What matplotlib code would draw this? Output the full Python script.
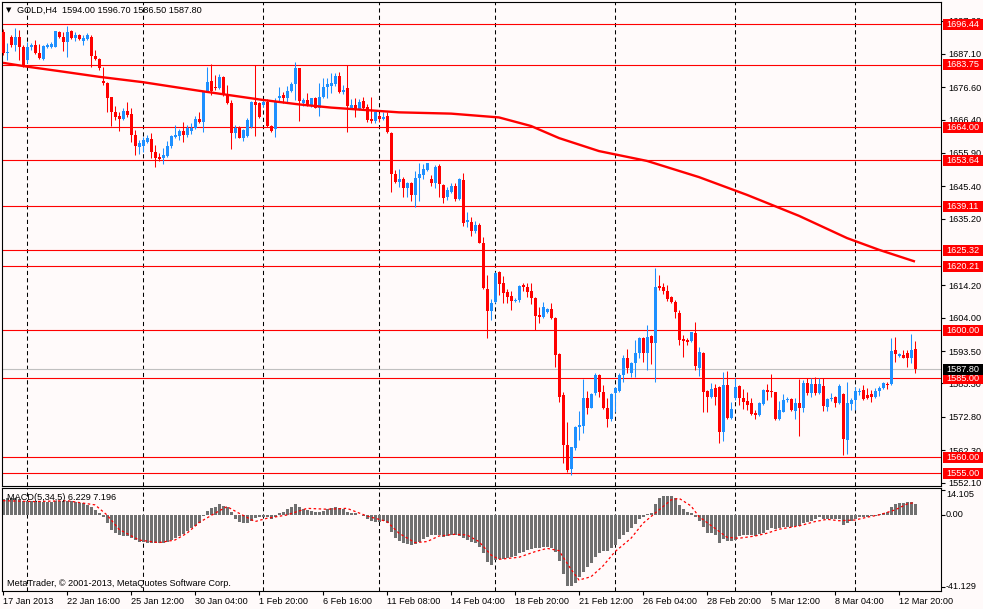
import matplotlib
matplotlib.use("Agg")
import matplotlib.pyplot as plt
import matplotlib.transforms as mtransforms
from matplotlib.patches import Rectangle

plt.rcParams['font.family'] = ['Liberation Sans', 'DejaVu Sans']

#------------------- data (GOLD, H4) -------------------
opens = [1694.1, 1687.4, 1692.5, 1689.9, 1692.5, 1689.4, 1685.2, 1689.4, 1689.9, 1687.5,
         1685.5, 1689.4, 1689.2, 1689.4, 1693.9, 1692.5, 1690.9, 1694.3, 1692.0, 1693.1,
         1691.3, 1691.8, 1692.5, 1686.5, 1685.4, 1678.7, 1678.0, 1673.4, 1668.9, 1667.6,
         1666.6, 1669.2, 1668.2, 1661.6, 1657.9, 1658.2, 1659.3, 1660.3, 1656.3, 1654.7,
         1654.4, 1655.1, 1658.2, 1660.8, 1661.3, 1662.8, 1661.6, 1662.8, 1663.7, 1666.6,
         1665.8, 1675.4, 1678.6, 1676.8, 1676.3, 1679.9, 1674.4, 1671.5, 1662.1, 1664.2,
         1660.7, 1661.3, 1664.2, 1672.0, 1671.5, 1671.0, 1672.0, 1664.5, 1663.5, 1673.3,
         1674.2, 1673.3, 1675.4, 1677.5, 1682.6, 1671.5, 1672.6, 1671.0, 1673.3, 1670.2,
         1673.6, 1676.8, 1677.1, 1677.5, 1680.2, 1675.0, 1676.3, 1670.2, 1671.0, 1669.8,
         1672.3, 1670.5, 1666.6, 1666.0, 1667.6, 1666.6, 1667.6, 1662.1, 1649.2, 1646.9,
         1647.6, 1644.8, 1646.3, 1642.7, 1647.9, 1649.0, 1650.5, 1647.7, 1646.5, 1651.8,
         1645.8, 1641.9, 1643.7, 1645.5, 1641.3, 1647.4, 1634.3, 1634.3, 1631.4, 1633.2,
         1627.6, 1612.9, 1606.2, 1609.1, 1618.5, 1615.0, 1612.2, 1611.0, 1609.3, 1609.6,
         1614.3, 1613.6, 1612.5, 1610.1, 1604.9, 1604.3, 1605.9, 1606.7, 1603.8, 1592.6,
         1579.7, 1563.9, 1556.2, 1562.9, 1569.5, 1570.0, 1578.6, 1575.7, 1580.2, 1586.0,
         1580.7, 1575.5, 1572.0, 1580.2, 1581.0, 1586.0, 1591.2, 1586.7, 1589.6, 1592.8,
         1597.5, 1592.8, 1598.3, 1596.1, 1614.0, 1613.6, 1612.5, 1610.4, 1609.1, 1605.5,
         1597.2, 1597.0, 1596.7, 1599.1, 1588.3, 1592.8, 1580.9, 1579.1, 1581.8, 1582.3,
         1567.9, 1582.8, 1572.3, 1578.6, 1582.6, 1578.6, 1577.8, 1577.0, 1573.9, 1573.4,
         1576.7, 1581.2, 1580.9, 1580.5, 1572.1, 1574.4, 1578.1, 1578.4, 1574.6, 1577.0,
         1575.5, 1583.4, 1580.2, 1583.0, 1580.2, 1582.5, 1576.0, 1578.4, 1579.1, 1577.0,
         1579.9, 1565.5, 1576.7, 1578.1, 1580.7, 1581.2, 1579.7, 1579.9, 1579.1, 1580.9,
         1582.0, 1583.0, 1583.0, 1593.8, 1592.0, 1592.3, 1592.8, 1591.4, 1594.0]
highs = [1694.9, 1690.5, 1693.1, 1695.2, 1694.6, 1689.9, 1690.9, 1690.6, 1691.5, 1690.2,
         1689.9, 1690.5, 1690.9, 1694.4, 1694.3, 1694.1, 1695.9, 1694.6, 1694.1, 1693.4,
         1693.1, 1693.8, 1693.1, 1688.3, 1685.7, 1683.1, 1678.4, 1673.6, 1670.7, 1668.9,
         1670.0, 1672.0, 1670.0, 1663.1, 1660.0, 1661.0, 1661.6, 1662.1, 1658.4, 1655.8,
         1657.4, 1659.7, 1661.6, 1664.7, 1663.5, 1665.8, 1664.7, 1665.3, 1667.6, 1668.9,
         1675.4, 1683.1, 1683.8, 1680.5, 1680.7, 1680.3, 1677.3, 1672.6, 1664.7, 1664.5,
         1663.5, 1666.8, 1672.3, 1683.6, 1672.0, 1672.9, 1672.9, 1664.7, 1673.3, 1676.8,
         1675.0, 1677.1, 1678.4, 1684.7, 1682.8, 1673.3, 1674.7, 1673.3, 1673.6, 1677.9,
         1679.4, 1679.4, 1681.0, 1681.0, 1681.3, 1677.3, 1683.6, 1672.9, 1673.1, 1672.9,
         1673.6, 1671.2, 1673.6, 1668.9, 1668.4, 1668.9, 1668.9, 1662.4, 1650.5, 1650.9,
         1648.4, 1646.9, 1646.7, 1650.2, 1652.9, 1652.4, 1652.9, 1649.0, 1652.1, 1652.4,
         1646.0, 1645.1, 1646.4, 1646.4, 1647.9, 1649.7, 1637.4, 1635.8, 1634.6, 1633.8,
         1629.3, 1617.5, 1609.8, 1618.5, 1618.8, 1617.2, 1613.0, 1612.5, 1610.1, 1614.3,
         1615.0, 1614.8, 1614.8, 1610.6, 1607.5, 1609.1, 1607.0, 1608.7, 1604.1, 1592.8,
         1580.7, 1571.3, 1563.4, 1569.9, 1574.7, 1584.6, 1581.0, 1580.4, 1586.7, 1586.3,
         1582.8, 1578.6, 1580.2, 1582.3, 1586.5, 1592.3, 1594.1, 1590.2, 1597.0, 1598.0,
         1597.8, 1601.7, 1598.6, 1619.6, 1617.5, 1614.8, 1614.3, 1610.8, 1609.6, 1606.4,
         1598.6, 1597.7, 1599.6, 1602.8, 1594.9, 1593.1, 1581.2, 1583.4, 1583.0, 1582.6,
         1587.0, 1587.2, 1577.4, 1585.1, 1582.8, 1581.6, 1580.5, 1578.8, 1574.9, 1577.4,
         1581.6, 1583.0, 1586.2, 1580.7, 1577.8, 1579.9, 1579.1, 1578.8, 1578.8, 1584.7,
         1584.4, 1584.9, 1585.1, 1585.4, 1584.9, 1584.9, 1578.8, 1580.2, 1579.4, 1583.0,
         1580.2, 1583.9, 1578.8, 1582.3, 1581.8, 1582.8, 1581.8, 1581.2, 1582.0, 1582.6,
         1583.7, 1583.7, 1597.7, 1598.0, 1592.8, 1593.8, 1593.8, 1598.8, 1596.7]
lows = [1686.8, 1685.2, 1689.4, 1688.1, 1685.2, 1683.1, 1684.2, 1688.3, 1687.1, 1685.5,
        1685.2, 1688.9, 1688.9, 1689.2, 1692.0, 1688.0, 1686.2, 1691.8, 1691.3, 1691.5,
        1689.9, 1691.5, 1683.1, 1685.2, 1682.0, 1677.3, 1668.9, 1664.4, 1666.3, 1662.9,
        1666.3, 1667.1, 1659.5, 1655.3, 1655.5, 1656.3, 1659.0, 1654.4, 1651.6, 1653.4,
        1652.3, 1654.7, 1657.6, 1660.5, 1660.0, 1659.3, 1661.0, 1662.0, 1663.5, 1665.3,
        1662.4, 1675.2, 1674.2, 1675.7, 1676.1, 1673.9, 1671.2, 1657.2, 1660.5, 1660.5,
        1659.7, 1661.0, 1663.9, 1661.3, 1666.8, 1670.5, 1664.2, 1662.6, 1661.0, 1672.0,
        1671.5, 1672.0, 1675.0, 1672.6, 1666.0, 1670.8, 1670.8, 1670.5, 1670.0, 1667.6,
        1673.1, 1673.3, 1674.7, 1677.1, 1674.7, 1674.4, 1662.6, 1669.8, 1667.3, 1669.4,
        1669.4, 1665.8, 1665.3, 1665.3, 1665.8, 1666.3, 1662.1, 1643.5, 1646.3, 1645.3,
        1642.1, 1642.1, 1640.9, 1638.8, 1640.9, 1647.6, 1650.3, 1645.5, 1644.8, 1641.9,
        1640.1, 1641.1, 1643.4, 1640.9, 1641.1, 1632.9, 1632.5, 1629.8, 1630.8, 1627.4,
        1612.9, 1597.5, 1603.3, 1608.7, 1611.2, 1608.7, 1608.6, 1606.4, 1609.1, 1609.1,
        1612.5, 1610.6, 1608.3, 1600.1, 1602.2, 1603.8, 1605.6, 1603.5, 1588.4, 1577.5,
        1558.2, 1555.5, 1554.5, 1562.3, 1565.5, 1567.6, 1573.7, 1575.5, 1579.7, 1579.1,
        1575.2, 1569.5, 1571.6, 1574.4, 1580.7, 1583.9, 1586.7, 1585.2, 1585.4, 1591.2,
        1590.2, 1587.5, 1589.4, 1583.9, 1612.7, 1611.5, 1609.4, 1608.6, 1603.9, 1595.4,
        1591.7, 1595.4, 1596.5, 1587.5, 1585.8, 1574.4, 1574.4, 1578.6, 1576.5, 1564.5,
        1565.2, 1572.1, 1572.1, 1578.1, 1576.5, 1575.3, 1574.9, 1573.4, 1572.1, 1573.2,
        1576.5, 1578.1, 1579.1, 1571.8, 1571.8, 1574.2, 1577.4, 1574.6, 1572.1, 1566.8,
        1574.4, 1579.7, 1579.1, 1579.7, 1579.9, 1574.6, 1574.6, 1577.8, 1576.0, 1576.8,
        1560.8, 1561.0, 1574.9, 1574.9, 1579.7, 1578.1, 1578.4, 1577.4, 1578.8, 1579.4,
        1581.6, 1581.6, 1582.8, 1590.2, 1591.7, 1591.2, 1588.6, 1589.7, 1586.5]
closes = [1687.3, 1687.7, 1689.9, 1692.5, 1689.2, 1683.6, 1689.4, 1689.8, 1687.3, 1685.7,
          1689.6, 1690.0, 1690.1, 1694.3, 1692.3, 1690.9, 1694.1, 1692.0, 1693.1, 1691.7,
          1692.0, 1693.1, 1686.5, 1685.5, 1682.6, 1677.9, 1673.1, 1668.9, 1667.1, 1666.6,
          1669.2, 1667.9, 1661.6, 1658.1, 1659.0, 1660.0, 1660.7, 1656.3, 1654.2, 1654.0,
          1655.3, 1658.2, 1661.2, 1661.6, 1662.8, 1661.6, 1663.9, 1663.7, 1666.6, 1665.8,
          1675.4, 1678.3, 1675.4, 1676.3, 1679.9, 1674.4, 1671.5, 1662.1, 1663.9, 1660.7,
          1663.1, 1666.3, 1672.0, 1671.0, 1667.3, 1672.0, 1664.5, 1662.8, 1672.0, 1673.9,
          1673.3, 1675.4, 1677.5, 1682.6, 1672.3, 1672.6, 1671.0, 1673.1, 1670.2, 1673.6,
          1676.8, 1677.5, 1677.9, 1680.2, 1675.0, 1675.7, 1670.8, 1671.0, 1669.8, 1672.0,
          1670.2, 1666.3, 1666.0, 1668.7, 1666.6, 1667.3, 1662.4, 1649.2, 1646.9, 1647.7,
          1644.8, 1646.5, 1642.7, 1647.9, 1649.3, 1650.9, 1652.7, 1646.4, 1651.4, 1646.0,
          1641.8, 1644.2, 1645.5, 1641.3, 1647.6, 1633.8, 1634.8, 1631.4, 1633.2, 1627.6,
          1613.3, 1606.2, 1608.5, 1618.2, 1614.6, 1611.9, 1610.6, 1609.4, 1609.6, 1614.0,
          1613.6, 1612.2, 1610.1, 1604.6, 1604.3, 1607.5, 1606.7, 1603.8, 1592.3, 1579.1,
          1563.9, 1556.0, 1563.2, 1569.5, 1570.2, 1578.6, 1575.5, 1580.0, 1586.0, 1580.7,
          1575.5, 1572.0, 1580.0, 1581.8, 1586.0, 1591.2, 1588.1, 1589.8, 1593.0, 1597.5,
          1592.8, 1597.8, 1596.1, 1613.8, 1613.3, 1612.5, 1609.8, 1609.1, 1605.8, 1597.0,
          1596.7, 1596.5, 1599.4, 1588.9, 1593.3, 1580.7, 1579.1, 1581.6, 1579.1, 1568.1,
          1582.8, 1572.3, 1575.3, 1582.3, 1578.8, 1577.5, 1576.5, 1573.6, 1573.4, 1577.0,
          1581.2, 1580.7, 1580.7, 1572.1, 1574.9, 1578.1, 1578.4, 1574.9, 1577.0, 1575.5,
          1583.4, 1580.2, 1583.0, 1580.2, 1583.0, 1576.3, 1578.4, 1578.8, 1577.0, 1582.6,
          1565.8, 1577.0, 1578.1, 1580.9, 1580.9, 1578.4, 1578.8, 1579.1, 1580.9, 1582.0,
          1583.4, 1582.8, 1593.5, 1592.5, 1592.5, 1591.4, 1591.4, 1593.8, 1587.8]

# moving average (red thick line), sampled at bar indices
ma_idx = [0, 6, 14, 24, 35, 49, 65, 74, 82, 91, 99, 112, 124, 132, 139, 149, 161, 174, 186, 199, 211, 219, 228]
ma_vals = [1684.3, 1683.1, 1681.7, 1679.9, 1678.2, 1675.5, 1672.6, 1671.2, 1670.2, 1669.4, 1668.7, 1668.3,
           1667.1, 1664.4, 1660.6, 1656.5, 1653.4, 1648.3, 1642.7, 1636.1, 1629.1, 1625.4, 1621.7]

# MACD(5,34,5) histogram, one value per bar
macd_hist = [9.2, 9.6, 9.6, 9.6, 9.0, 8.2, 8.2, 8.2, 8.2, 8.1,
             7.7, 7.7, 7.7, 8.2, 8.2, 8.2, 8.2, 8.2, 7.7, 7.1,
             6.7, 5.8, 4.4, 2.9, 1.0, -1.0, -4.8, -8.6, -10.5, -11.5,
             -12.1, -12.1, -13.4, -14.4, -15.3, -15.3, -15.9, -16.3, -16.3, -16.3,
             -16.3, -15.7, -14.4, -13.4, -12.1, -10.9, -9.0, -7.7, -6.3, -4.4,
             -0.6, 2.5, 3.8, 4.8, 6.3, 5.2, 4.4, 1.9, -2.5, -3.8,
             -4.8, -4.8, -3.3, -1.9, -1.3, -1.0, -1.3, -2.5, -1.3, 1.0,
             1.9, 3.3, 4.4, 6.3, 4.8, 3.3, 2.9, 2.5, 1.9, 1.9,
             2.5, 3.3, 3.8, 4.4, 3.8, 3.3, 1.9, 1.3, 1.0, 0.1,
             -0.6, -2.5, -3.3, -3.8, -3.8, -3.3, -4.8, -9.6, -13.4, -14.8,
             -16.3, -16.7, -17.3, -16.7, -15.3, -14.0, -12.5, -11.5, -11.5, -11.5,
             -12.5, -12.1, -11.5, -11.5, -12.1, -13.4, -14.4, -15.3, -16.3, -18.2,
             -22.0, -26.8, -28.8, -25.9, -25.5, -25.3, -24.9, -24.3, -23.6, -22.0,
             -21.1, -20.1, -19.7, -19.2, -18.8, -18.6, -18.6, -18.8, -21.1, -26.3,
             -33.9, -40.8, -41.1, -39.3, -35.5, -32.6, -30.1, -27.4, -24.3, -21.7,
             -20.5, -20.5, -19.2, -17.3, -14.0, -11.5, -9.6, -7.7, -5.2, -2.5,
             -1.3, 0.6, 1.3, 6.3, 9.6, 10.9, 10.9, 10.9, 9.6, 5.8,
             3.3, 1.9, 1.3, -1.0, -3.3, -7.1, -10.2, -10.5, -11.5, -15.9,
             -14.0, -14.8, -14.8, -14.4, -12.1, -11.5, -11.5, -11.5, -12.1, -10.9,
             -10.2, -8.6, -7.7, -8.2, -7.7, -7.1, -6.7, -6.7, -6.3, -6.3,
             -4.8, -3.8, -3.3, -2.5, -1.3, -2.5, -2.5, -2.5, -2.5, -2.5,
             -5.8, -4.4, -3.3, -2.5, -1.3, -1.3, -1.3, -0.6, -0.6, 0.6,
             1.3, 1.9, 4.8, 6.3, 7.1, 7.1, 7.5, 7.7, 6.229]

# MACD signal line, sampled at bar indices
sig_idx = [0, 8, 16, 23, 26, 29, 34, 39, 43, 46, 49, 53, 56, 59, 63, 66, 71, 76, 81, 86,
           91, 96, 99, 103, 106, 109, 113, 116, 119, 122, 124, 129, 133, 136, 139, 142, 144, 147,
           150, 153, 157, 160, 163, 167, 169, 172, 174, 178, 181, 184, 188, 191, 194, 199, 203,
           206, 209, 213, 216, 219, 223, 226, 228]
sig_vals = [8.2, 7.7, 8.2, 5.8, 0.0, -8.2, -14.4, -15.9, -14.4, -10.5, -4.4, 1.0, 4.8, 1.0, -3.8,
            -1.9, 0.0, 3.8, 3.3, 3.8, -0.6, -3.8, -10.5, -15.9, -15.3, -12.1, -11.1, -11.5, -15.3,
            -23.0, -25.5, -24.3, -21.1, -19.2, -20.5, -31.2, -37.4, -35.5, -29.3, -21.1, -13.4,
            -4.8, 1.0, 8.6, 9.6, 5.2, -1.0, -7.7, -12.8, -13.4, -12.1, -10.5, -8.2, -6.3, -3.8,
            -2.5, -3.3, -2.9, -1.3, 0.0, 2.9, 6.3, 7.196]

levels = [1696.44, 1683.75, 1664.00, 1653.64, 1639.11, 1625.32, 1620.21, 1600.00, 1585.00, 1560.00, 1555.00]
price_ticks = [1697.60, 1687.10, 1676.60, 1666.40, 1655.90, 1645.40, 1635.20,
               1614.20, 1604.00, 1593.50, 1583.30, 1572.80, 1562.30, 1552.10]
last_price = 1587.80
grid_bars = [6, 35, 65, 94, 123, 153, 183, 213]
date_bars = [0, 16, 32, 48, 64, 80, 96, 112, 128, 144, 160, 176, 192, 208, 224]
date_labels = ['17 Jan 2013', '22 Jan 16:00', '25 Jan 12:00', '30 Jan 04:00', '1 Feb 20:00',
               '6 Feb 16:00', '11 Feb 08:00', '14 Feb 04:00', '18 Feb 20:00', '21 Feb 12:00',
               '26 Feb 04:00', '28 Feb 20:00', '5 Mar 12:00', '8 Mar 04:00', '12 Mar 20:00']
macd_ticks = [14.105, 0.0, -41.129]
macd_tick_labels = ['14.105', '0.00', '-41.129']

#------------------- layout in pixels -------------------
W, H = 983, 609
BG = '#fffafa'
UP = '#1e90ff'
DOWN = '#ff0000'
FS = 6.6

def fx(x):
    return x / W

def fy(y):
    return 1 - y / H

fig = plt.figure(figsize=(W / 100, H / 100), dpi=100, facecolor=BG)
ax = fig.add_axes([fx(2), fy(486), fx(939), 484 / H], facecolor=BG)
ax2 = fig.add_axes([fx(2), fy(591), fx(939), 103 / H], facecolor=BG)

n = len(closes)
xr = (-0.25, 234.5)

#------------------- main chart -------------------
for g in grid_bars:
    ax.axvline(g, color='black', lw=0.75, ls=(0, (4, 3)), zorder=1)
    ax2.axvline(g, color='black', lw=0.75, ls=(0, (4, 3)), zorder=1)

ax.axhline(last_price, color='#c0c0c0', lw=0.8, zorder=1)

for i in range(n):
    col = UP if closes[i] > opens[i] else DOWN
    ax.vlines(i, lows[i], highs[i], color=col, lw=0.75, zorder=3)
    body = abs(closes[i] - opens[i])
    ax.bar(i, max(body, 0.32), bottom=min(opens[i], closes[i]), width=0.75,
           color=col, linewidth=0, zorder=3)

ax.plot(ma_idx, ma_vals, color='red', lw=1.7, zorder=4, solid_capstyle='butt')

for lv in levels:
    ax.axhline(lv, color='red', lw=0.8, zorder=2)

ax.set_xlim(*xr)
ax.set_ylim(1551.0, 1703.46)
ax.set_xticks([])
ax.yaxis.tick_right()
ax.set_yticks(price_ticks)
ax.set_yticklabels(['%.2f' % t for t in price_ticks])
ax.tick_params(axis='y', length=3, width=0.8, pad=2, labelsize=FS, colors='black')
for s in ax.spines.values():
    s.set_color('black')
    s.set_linewidth(0.8)

# price label boxes on the right scale
trans = mtransforms.blended_transform_factory(fig.transFigure, ax.transData)
box_h = 11 * (1703.46 - 1551.0) / 484
for lv in levels:
    ax.add_patch(Rectangle((fx(942.5), lv - box_h / 2), fx(40.5), box_h, transform=trans,
                           facecolor='red', edgecolor='none', clip_on=False, zorder=5))
    ax.text(fx(946), lv, '%.2f' % lv, transform=trans, color='white', fontsize=FS,
            ha='left', va='center', zorder=6, clip_on=False)
ax.add_patch(Rectangle((fx(942.5), last_price - box_h / 2), fx(40.5), box_h, transform=trans,
                       facecolor='black', edgecolor='none', clip_on=False, zorder=5))
ax.text(fx(946), last_price, '%.2f' % last_price, transform=trans, color='white', fontsize=FS,
        ha='left', va='center', zorder=6, clip_on=False)

#------------------- MACD window -------------------
ax2.bar(range(n), macd_hist, width=0.75, color='#707070', linewidth=0, zorder=2)
ax2.plot(sig_idx, sig_vals, color='red', lw=0.9, ls=(0, (2, 2)), zorder=3)
ax2.set_xlim(*xr)
ax2.set_ylim(-43.7, 15.5)
ax2.yaxis.tick_right()
ax2.set_yticks(macd_ticks)
ax2.set_yticklabels([])
ax2.tick_params(axis='y', length=3, width=0.8, colors='black')
trans2 = mtransforms.blended_transform_factory(fig.transFigure, ax2.transData)
for v, lab in zip(macd_ticks, macd_tick_labels):
    ax2.text(fx(946), v, lab, transform=trans2, fontsize=FS, ha='left',
             va='top' if v > 0 else 'center', clip_on=False)
ax2.set_xticks(date_bars)
ax2.set_xticklabels(date_labels)
ax2.tick_params(axis='x', length=3, width=0.8, pad=1.5, labelsize=FS, colors='black')
for lab in ax2.get_xticklabels():
    lab.set_ha('left')
for s in ax2.spines.values():
    s.set_color('black')
    s.set_linewidth(0.8)

#------------------- texts -------------------
fig.text(fx(6), fy(10), '\u25bc', fontsize=5, family='DejaVu Sans', va='center', ha='left')
fig.text(fx(17), fy(10), 'GOLD,H4  1594.00 1596.70 1586.50 1587.80', fontsize=FS,
         va='center', ha='left')
fig.text(fx(7), fy(497), 'MACD(5,34,5) 6.229 7.196', fontsize=FS, va='center', ha='left')
fig.text(fx(7), fy(584), 'MetaTrader, \u00a9 2001-2013, MetaQuotes Software Corp.', fontsize=FS,
         va='center', ha='left')

fig.savefig('out.png', dpi=100, facecolor=BG)
